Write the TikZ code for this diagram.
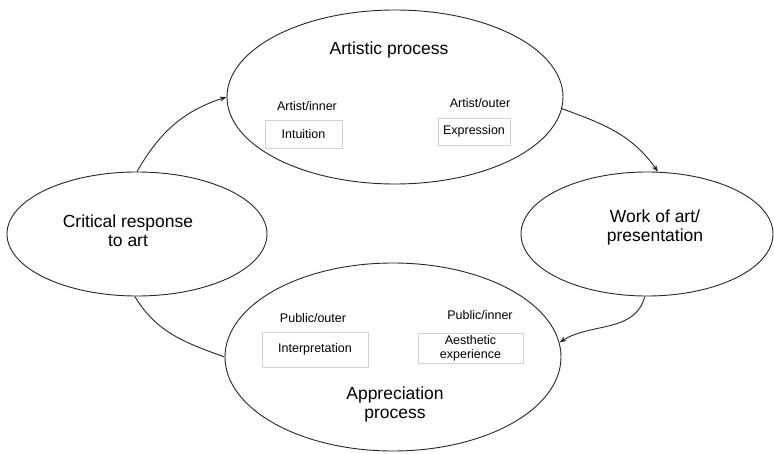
\documentclass[tikz,border=0pt]{standalone}
\usepackage{fontspec}
\setmainfont{Liberation Sans}
\usetikzlibrary{arrows.meta,shapes.geometric}
\begin{document}
\begin{tikzpicture}[x=1pt,y=1pt,
  bigell/.style={draw=black!85,line width=0.9pt,ellipse,inner sep=0pt},
  bigtxt/.style={font=\fontsize{17.5}{19}\selectfont,align=center,inner sep=0pt},
  smalltxt/.style={font=\fontsize{12.5}{14}\selectfont,align=center,inner sep=0pt},
  ibox/.style={draw=black!18,line width=0.6pt,inner sep=0pt,font=\fontsize{12.5}{14}\selectfont,align=center},
  conn/.style={draw=black!85,line width=0.9pt},
  arr/.style={conn,-{Stealth[length=7pt,width=5pt]}}]
\useasboundingbox (0,0) rectangle (774,453);
% ellipses
\node[bigell,minimum width=336pt,minimum height=174pt] (top) at (395,356) {};
\node[bigell,minimum width=336pt,minimum height=188pt] (bot) at (393,96) {};
\node[bigell,minimum width=260pt,minimum height=124pt] (crit) at (137,219) {};
\node[bigell,minimum width=252pt,minimum height=124pt] (work) at (647,219) {};
% main texts
\node[bigtxt] (tAP) at (389,403) {Artistic process};
\node[bigtxt] (tApp) at (395,49) {Appreciation\\process};
\node[bigtxt] (tCrit) at (128,222) {Critical response\\to art};
\node[bigtxt] (tWork) at (655,226) {Work of art/\\presentation};
% small labels
\node[smalltxt] (lAI) at (307,347) {Artist/inner};
\node[smalltxt] (lAO) at (480,350) {Artist/outer};
\node[smalltxt] (lPO) at (313,135) {Public/outer};
\node[smalltxt] (lPI) at (480,138) {Public/inner};
% boxes
\node[ibox,minimum width=77pt,minimum height=28pt] (bInt) at (303.5,319) {Intuition};
\node[ibox,minimum width=72pt,minimum height=27pt] (bExp) at (474,321.5) {Expression};
\node[ibox,minimum width=106pt,minimum height=35pt] (bInterp) at (315,103.5) {Interpretation};
\node[ibox,minimum width=105pt,minimum height=30pt] (bAes) at (470.5,105) {Aesthetic\\experience};
% connectors
\draw[arr] (crit.north) to[out=60,in=198] (top.west);
\draw[arr] (top.-4) to[out=-20,in=125] (work.80);
\draw[arr] (work.-92) to[out=-105,in=32] (bot.5);
\draw[conn] (bot.west) to[out=160,in=-59] (crit.-92);
\end{tikzpicture}
\end{document}
